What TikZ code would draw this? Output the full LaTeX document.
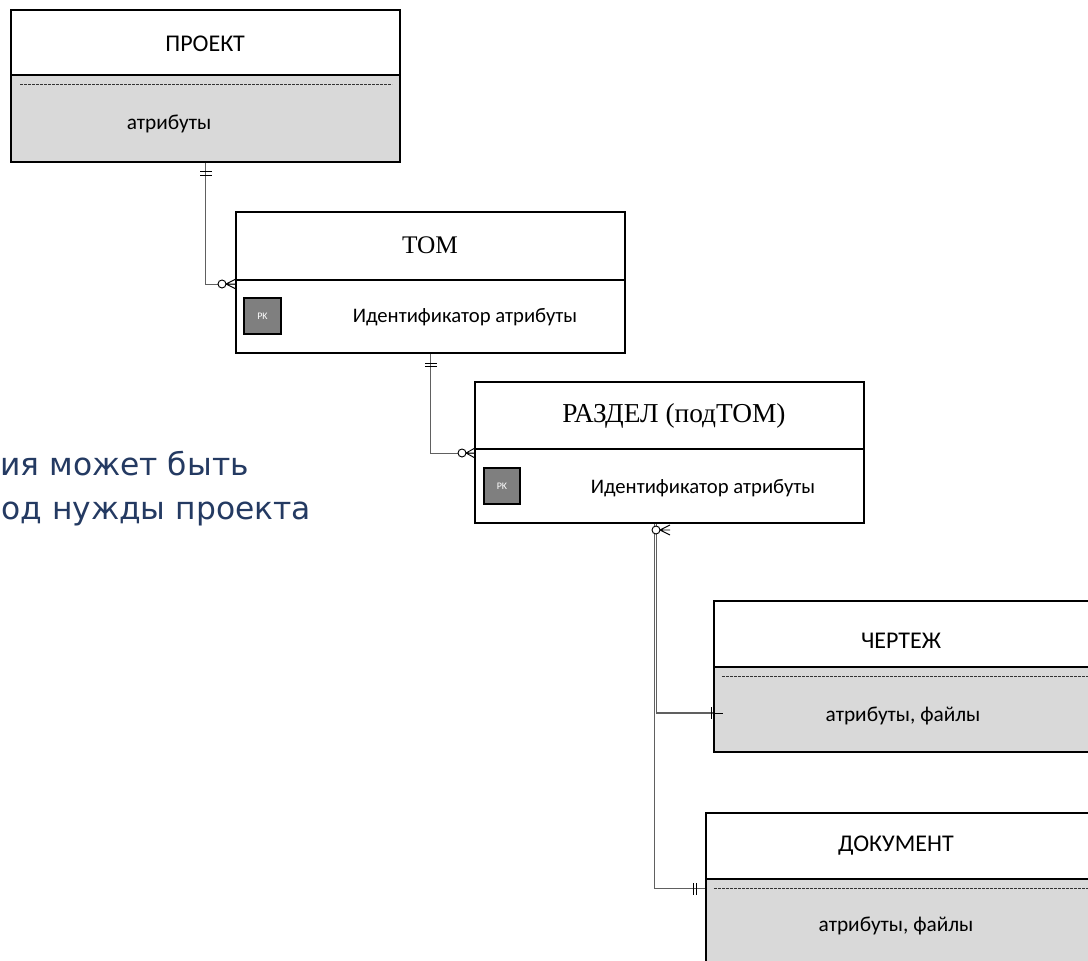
\documentclass[tikz,border=0pt]{standalone}
\usepackage{fontspec}
\setmainfont{Carlito}
\newfontfamily\seriffont{Liberation Serif}
\newfontfamily\notefont{DejaVu Sans}
\usetikzlibrary{fit,calc}
\definecolor{grayfill}{HTML}{D9D9D9}
\definecolor{pkgray}{HTML}{7F7F7F}
\definecolor{navy}{HTML}{243A62}
\definecolor{conncol}{HTML}{606060}
\begin{document}
\begin{tikzpicture}[x=0.75pt,y=-0.75pt,
  box/.style={draw=black,line width=1.1pt,inner sep=0pt},
  hdrbox/.style={box,fill=white},
  graybody/.style={box,fill=grayfill},
  whitebody/.style={box,fill=white},
  sepline/.style={draw=black!80,dash pattern=on 2pt off 1pt,line width=0.6pt},
  ttl/.style={font=\fontsize{18}{21}\selectfont,inner sep=0pt},
  sttl/.style={font=\seriffont\fontsize{19}{22}\selectfont,inner sep=0pt},
  attr/.style={font=\fontsize{16}{19}\selectfont,inner sep=0pt},
  idattr/.style={font=\fontsize{15.5}{18}\selectfont,inner sep=0pt},
  pk/.style={draw=black,line width=0.8pt,fill=pkgray,text=white,font=\fontsize{7.5}{8}\selectfont,inner sep=0pt},
  conn/.style={draw=conncol,line width=0.8pt},
  tick/.style={draw=black,line width=0.7pt},
  note/.style={font=\notefont\fontsize{23.5}{28}\selectfont,text=navy,inner sep=0pt,anchor=base west}
]
\useasboundingbox (0,0) rectangle (1088,960);
\clip (0,0) rectangle (1088,960);

% ---------- ПРОЕКТ ----------
\node[hdrbox,fit={(11,10)(400,75)}] (ph) {};
\node[graybody,fit={(11,75)(400,162)}] (pb) {};
\draw[sepline] (20,84) -- (392,84);
\node[ttl] (pt) at (205,44) {ПРОЕКТ};
\node[attr] (pa) at (169,124) {атрибуты};

% ---------- ТОМ ----------
\node[hdrbox,fit={(236,212)(625,280)}] (th) {};
\node[whitebody,fit={(236,280)(625,353)}] (tb) {};
\node[sttl] (tt) at (430,245) {ТОМ};
\node[pk,fit={(244,298)(281,334)}] (tpk) {};
\node[pk,draw=none,fill=none] at (tpk.center) {PK};
\node[idattr] (ta) at (465,317) {Идентификатор атрибуты};

% ---------- РАЗДЕЛ ----------
\node[hdrbox,fit={(475,382)(864,449)}] (rh) {};
\node[whitebody,fit={(475,449)(864,523)}] (rb) {};
\node[sttl,font=\seriffont\fontsize{20.5}{23}\selectfont] (rt) at (674,416) {РАЗДЕЛ (подТОМ)};
\node[pk,fit={(484,468)(520,504)}] (rpk) {};
\node[pk,draw=none,fill=none] at (rpk.center) {PK};
\node[idattr] (ra) at (703,488) {Идентификатор атрибуты};

% ---------- ЧЕРТЕЖ ----------
\node[hdrbox,fit={(714,601)(1100,667)}] (ch) {};
\node[graybody,fit={(714,667)(1100,752)}] (cb) {};
\draw[sepline] (722,676) -- (1100,676);
\node[ttl] (ct) at (901,641) {ЧЕРТЕЖ};
\node[attr] (ca) at (903,716) {атрибуты, файлы};

% ---------- ДОКУМЕНТ ----------
\node[hdrbox,fit={(706,813)(1100,879)}] (dh) {};
\node[graybody,fit={(706,879)(1100,990)}] (db) {};
\draw[sepline] (714,888) -- (1100,888);
\node[ttl] (dt) at (896,846) {ДОКУМЕНТ};
\node[attr] (da) at (896,926) {атрибуты, файлы};

% ---------- note ----------
\node[note] (n1) at (0,475) {ия может быть};
\node[note] (n2) at (1,519) {од нужды проекта};

% ---------- connectors ----------
\coordinate (tin) at ($(th.south west)+(0,4)$);
\draw[conn] (pb.south) |- (tin);
\draw[tick] (200,171.5) -- (212,171.5) (200,175) -- (212,175);
\draw[tick,fill=white] (222,284) circle [radius=3pt];
\draw[tick] (226,284) -- (236,279) (226,284) -- (236,284) (226,284) -- (236,289);

\coordinate (rin) at ($(rh.south west)+(0,4)$);
\draw[conn] (tb.south) |- (rin);
\draw[tick] (425,363) -- (437,363) (425,366.5) -- (437,366.5);
\draw[tick,fill=white] (462,453) circle [radius=3pt];
\draw[tick] (466,453) -- (475,448) (466,453) -- (475,453) (466,453) -- (475,458);

\coordinate (rout1) at ($(rb.south west)+(180,0)$);
\coordinate (rout2) at ($(rb.south west)+(182.5,0)$);
\coordinate (cin) at ($(cb.west)+(0,3.5)$);
\coordinate (din) at ($(db.north west)+(0,10)$);
\draw[conn] (rout1) |- (din);
\draw[conn] (rout2) |- (cin);
\draw[tick] (cin) -- ++(10,0);
\draw[tick] (711,707) -- (711,719);
\draw[tick] (693,883) -- (693,895) (696.5,883) -- (696.5,895);
\draw[tick,fill=white] (656,530) circle [radius=3pt];
\draw[tick] (660,530) -- (670,525) (660,530) -- (670,530) (660,530) -- (670,535);
\end{tikzpicture}
\end{document}
